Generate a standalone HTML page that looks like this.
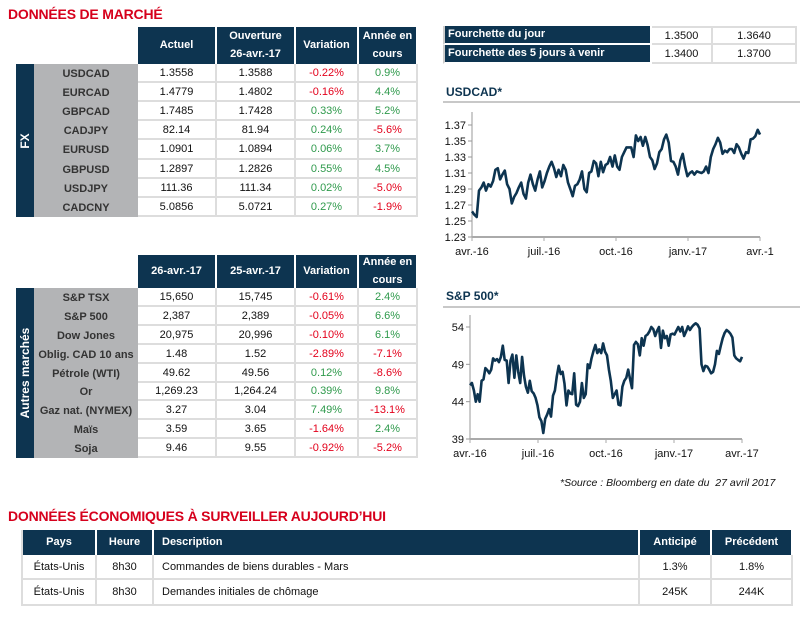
<!DOCTYPE html>
<html><head><meta charset="utf-8">
<style>
body{margin:0;width:803px;height:617px;position:relative;background:#fff;font-family:"Liberation Sans",sans-serif;overflow:hidden}
.abs{position:absolute}
.title{position:absolute;color:#d6001c;font-weight:bold;font-size:14px;letter-spacing:-0.2px}
.hd{position:absolute;background:#0d3450;color:#fff;font-weight:bold;font-size:11px;display:flex;align-items:center;justify-content:center;text-align:center;box-sizing:border-box;border-right:2px solid #fff;line-height:1.6}
.cell{position:absolute;box-sizing:border-box;border-right:2px solid #ddd;border-bottom:2px solid #ddd;display:flex;align-items:center;justify-content:center;font-size:11px;color:#111}
.lab{position:absolute;box-sizing:border-box;background:#b3b4b6;display:flex;align-items:center;justify-content:center;font-size:11px;font-weight:bold;color:#333}
.red{color:#e3001b}.grn{color:#2f9a4c}
.band{position:absolute;background:#0d3450;color:#fff;font-weight:bold;font-size:12px}
.band span{position:absolute;left:50%;top:50%;transform:translate(-50%,-50%) rotate(-90deg);white-space:nowrap}
</style></head><body>
<div class="title" style="left:8px;top:6px">DONNÉES DE MARCHÉ</div>
<div class="title" style="left:8px;top:508px">DONNÉES ÉCONOMIQUES À SURVEILLER AUJOURD’HUI</div>
<div id="tables"></div>
<div class="abs" style="left:560px;top:477px;font-size:10.5px;font-style:italic;color:#111">*Source : Bloomberg en date du&nbsp; 27 avril 2017</div>

<div class="abs" style="left:446px;top:85px;font-size:12px;font-weight:bold;color:#0d3450">USDCAD*</div>
<div class="abs" style="left:443px;top:101px;width:357px;height:2px;background:#c8c8c8"></div>
<div class="abs" style="left:446px;top:289px;font-size:12px;font-weight:bold;color:#0d3450">S&amp;P 500*</div>
<div class="abs" style="left:443px;top:306px;width:357px;height:2px;background:#c8c8c8"></div>
<svg id="charts" class="abs" style="left:0;top:0" width="803" height="617"></svg>

<script>
const usdTicks=[1.23,1.25,1.27,1.29,1.31,1.33,1.35,1.37];
const usdXLabels=["avr.-16","juil.-16","oct.-16","janv.-17","avr.-1"];
const usdValues=[1.262,1.258,1.255,1.288,1.292,1.298,1.288,1.296,1.293,1.300,1.314,1.316,1.302,1.308,1.313,1.296,1.290,1.272,1.280,1.285,1.292,1.298,1.284,1.278,1.298,1.308,1.296,1.288,1.302,1.312,1.292,1.300,1.310,1.318,1.324,1.316,1.305,1.314,1.306,1.320,1.314,1.298,1.290,1.281,1.294,1.296,1.302,1.312,1.290,1.286,1.310,1.312,1.325,1.322,1.306,1.324,1.311,1.320,1.322,1.330,1.318,1.332,1.318,1.314,1.330,1.336,1.342,1.342,1.342,1.330,1.357,1.350,1.355,1.344,1.355,1.345,1.330,1.326,1.315,1.322,1.336,1.340,1.352,1.358,1.348,1.325,1.324,1.318,1.308,1.326,1.334,1.318,1.306,1.310,1.312,1.308,1.312,1.311,1.310,1.312,1.318,1.310,1.330,1.340,1.346,1.354,1.348,1.334,1.338,1.336,1.340,1.340,1.335,1.346,1.342,1.334,1.328,1.336,1.335,1.352,1.353,1.356,1.364,1.358];
const spTicks=[39,44,49,54];
const spXLabels=["avr.-16","juil.-16","oct.-16","janv.-17","avr.-17"];
const spValues=[46.2,46.5,45.5,44,45,44,46.8,47,48.5,48.2,47.8,48.3,49.8,49.5,49.7,49.3,50,51.5,49.6,49.5,46.5,49.5,50.3,47.2,50.2,48,46.5,50,47.5,46,45.2,46.8,45.4,45.1,44.5,43.5,41.9,41.4,39.8,41.7,42.3,43,42,44.8,45.5,47.4,48.8,47.7,48,46.4,43.5,45.5,45.1,45,47.8,43.6,43.4,44,46.5,44.5,45,49,48.5,49.8,50.8,51.6,50.5,51,50.5,51.8,50.7,50.2,48.3,46.8,44.5,45,45.5,43.6,43.5,46,46.8,47.2,48.3,47,45.8,51.6,52,51.7,50.2,52.5,51.5,52.8,53,53.4,54,53.7,52.8,53.5,54,51.2,53.5,52.5,52.8,51.5,53,53.1,53,53.5,54,53.4,54,52.8,53.4,54.1,53.6,54,54.3,54.5,54.3,53.8,49,48.1,48.8,48.7,48.3,47.8,48,49,50.8,50.4,51.5,52.5,53.2,53.6,53.4,53.1,52.6,50.2,49.8,49.6,49.4,50];

const NS="http://www.w3.org/2000/svg";
const svg=document.getElementById('charts');
function mk(tag,attrs,parent){const e=document.createElementNS(NS,tag);for(const k in attrs)e.setAttribute(k,attrs[k]);(parent||svg).appendChild(e);return e;}
function chart(o){
  const ys=v=>o.y0+(v-o.vmin)/(o.vmax-o.vmin)*(o.y1-o.y0);
  const xs=i=>o.x0+i/(o.vals.length-1)*(o.x1-o.x0);
  const ya=mk('line',{x1:o.x0,y1:o.top,x2:o.x0,y2:o.y0,stroke:'#999','stroke-width':1});
  
  
  o.ticks.forEach(t=>{
    const y=ys(t);
    mk('line',{x1:o.x0-4,y1:y,x2:o.x0,y2:y,stroke:'#999'});
    const tx=mk('text',{x:o.x0-6,y:y+4,'text-anchor':'end','font-size':11,fill:'#111','font-family':'Liberation Sans, sans-serif'});
    tx.textContent=o.fmt(t);
    
    
  });
  const xa=mk('line',{x1:o.x0,y1:o.y0,x2:o.x1,y2:o.y0,stroke:'#aaa','stroke-width':2});
  
  
  o.xl.forEach((l,i)=>{
    const x=o.x0+i/(o.xl.length-1)*(o.x1-o.x0);
    mk('line',{x1:x,y1:o.y0,x2:x,y2:o.y0+4,stroke:'#aaa'});
    const tx=mk('text',{x:x,y:o.y0+18,'text-anchor':'middle','font-size':11,fill:'#111','font-family':'Liberation Sans, sans-serif'});
    tx.textContent=l;
    
    
  });
  const d=o.vals.map((v,i)=>(i?'L':'M')+xs(i).toFixed(1)+' '+ys(v).toFixed(1)).join(' ');
  const p=mk('path',{d:d,fill:'none',stroke:'#0d3450','stroke-width':2.6,'stroke-linejoin':'round'});
  
  
}
chart({name:'usdcad',x0:472,x1:760,y0:237,y1:125,vmin:1.23,vmax:1.37,top:112,vals:usdValues,ticks:usdTicks,xl:usdXLabels,fmt:t=>t.toFixed(2)});
chart({name:'sp500',x0:470,x1:742,y0:439,y1:327,vmin:39,vmax:54,top:315,vals:spValues,ticks:spTicks,xl:spXLabels,fmt:t=>String(t)});

const fxNames=["USDCAD","EURCAD","GBPCAD","CADJPY","EURUSD","GBPUSD","USDJPY","CADCNY"];
const fxCur=["1.3558","1.4779","1.7485","82.14","1.0901","1.2897","111.36","5.0856"];
const fxOpen=["1.3588","1.4802","1.7428","81.94","1.0894","1.2826","111.34","5.0721"];
const fxVar=["-0.22%","-0.16%","0.33%","0.24%","0.06%","0.55%","0.02%","0.27%"];
const fxYtd=["0.9%","4.4%","5.2%","-5.6%","3.7%","4.5%","-5.0%","-1.9%"];
const mkNames=["S&P TSX","S&P 500","Dow Jones","Oblig. CAD 10 ans","Pétrole (WTI)","Or","Gaz nat. (NYMEX)","Maïs","Soja"];
const mkCur=["15,650","2,387","20,975","1.48","49.62","1,269.23","3.27","3.59","9.46"];
const mkPrev=["15,745","2,389","20,996","1.52","49.56","1,264.24","3.04","3.65","9.55"];
const mkVar=["-0.61%","-0.05%","-0.10%","-2.89%","0.12%","0.39%","7.49%","-1.64%","-0.92%"];
const mkYtd=["2.4%","6.6%","6.1%","-7.1%","-8.6%","9.8%","-13.1%","2.4%","-5.2%"];
const T=document.getElementById('tables');
function box(cls,x,y,w,h,html,name,extra){
  const d=document.createElement('div');d.className=cls;
  d.style.cssText=`left:${x}px;top:${y}px;width:${w}px;height:${h}px;`+(extra||'');
  d.innerHTML=html;
  
  
  T.appendChild(d);return d;
}
const cols=[[138,79],[217,79],[296,63],[359,59]];
function mtable(pref,top,hTop,headers,names,a,b,c,e,bandLabel,rh){
  headers.forEach((h,i)=>box('hd',cols[i][0],hTop,cols[i][1],top-hTop,h,pref+'-header-'+i));
  const n=names.length;
  const bottom=Math.round(top+n*rh);
  box('band',16,top,18,bottom-top,'<span>'+bandLabel+'</span>',pref+'-group-band');
  box('lab',34,top,104,bottom-top,'',pref+'-label-column');
  names.forEach((nm,r)=>{
    const y=Math.round(top+r*rh);
    const h=Math.round(top+(r+1)*rh)-y;
    box('lab',34,y,104,h,nm.replace('&','&amp;'),pref+'-row-label');
    [a,b,c,e].forEach((arr,i)=>{
      const v=arr[r];let cl='';
      if(i>=2)cl=v.startsWith('-')?'red':'grn';
      box('cell '+cl,cols[i][0],y,cols[i][1],h,v,pref+'-cell');
    });
  });
}
mtable('fx',64,27,["Actuel","Ouverture<br>26-avr.-17","Variation","Année en<br>cours"],fxNames,fxCur,fxOpen,fxVar,fxYtd,'FX',19.1);
mtable('markets',288,255,["26-avr.-17","25-avr.-17","Variation","Année en<br>cours"],mkNames,mkCur,mkPrev,mkVar,mkYtd,'Autres marchés',18.9);

const rngLabels=["Fourchette du jour","Fourchette des 5 jours à venir"];
const rngLow=["1.3500","1.3400"];
const rngHigh=["1.3640","1.3700"];
rngLabels.forEach((l,r)=>{
  const y=26+r*19;
  box('hd',443,y,209,19,l,'range-label',"justify-content:flex-start;padding-left:3px;border-bottom:2px solid #fff;border-left:2px solid #ccc");
  box('cell',652,y,61,19,rngLow[r],'range-low',"border-top:"+(r?0:2)+"px solid #ddd");
  box('cell',713,y,84,19,rngHigh[r],'range-high',"border-top:"+(r?0:2)+"px solid #ddd");
});

const ecoCols=[[21,76],[97,57],[154,486],[640,72],[712,81]];
const ecoHead=["Pays","Heure","Description","Anticipé","Précédent"];
const ecoRows=[["États-Unis","8h30","Commandes de biens durables - Mars","1.3%","1.8%"],["États-Unis","8h30","Demandes initiales de chômage","245K","244K"]];
ecoHead.forEach((h,i)=>box('hd',ecoCols[i][0],530,ecoCols[i][1],25,h,'eco-header-'+h.toLowerCase(),(i==2?'justify-content:flex-start;padding-left:8px;':'')+(i==0?'border-left:2px solid #ddd;':'')));
ecoRows.forEach((row,r)=>row.forEach((v,i)=>box('cell',ecoCols[i][0],555+r*25,ecoCols[i][1],r?26:25,v,'eco-cell',(i==2?'justify-content:flex-start;padding-left:8px;':'')+(i==0?'border-left:2px solid #ddd;':''))));
</script>
</body></html>
